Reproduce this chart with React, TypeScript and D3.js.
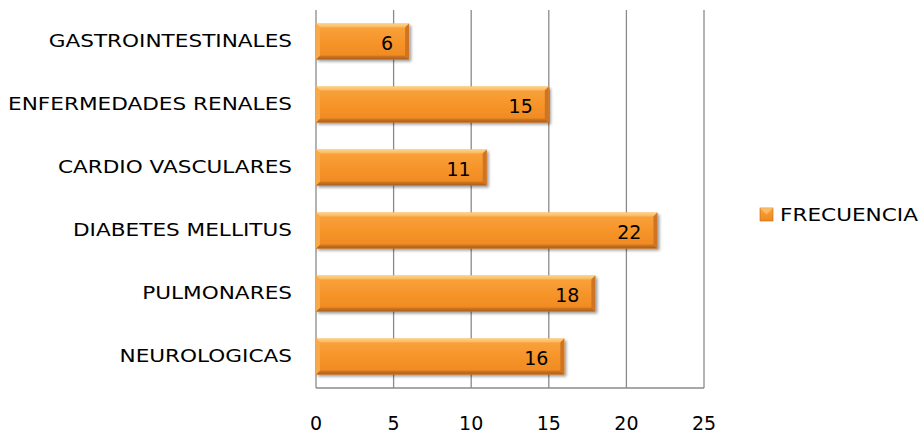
import React from "react";
import * as d3 from "d3";

const categories = ["GASTROINTESTINALES", "ENFERMEDADES RENALES", "CARDIO VASCULARES", "DIABETES MELLITUS", "PULMONARES", "NEUROLOGICAS"];
const values = [6, 15, 11, 22, 18, 16];
const ticks = [0, 5, 10, 15, 20, 25];
const seriesName = "FRECUENCIA";

const W = 920, H = 436;
const left = 316, right = 704, top = 10, bottom = 388;
const FONT = "'DejaVu Sans', sans-serif";
const SX = 1.2;
const BV = 4;

export default function App() {
  const x = d3.scaleLinear().domain([0, 25]).range([left, right]);
  const y = d3.scaleBand<string>().domain(categories).range([top, bottom]).paddingInner(0.43).paddingOuter(0.215);
  const bh = y.bandwidth();
  return (
    <svg width={W} height={H} style={{ position: "absolute", left: 0, top: 0, background: "#fff" }}>
      <defs>
        <linearGradient id="barg" x1="0" y1="0" x2="0" y2="1">
          <stop offset="0" stopColor="#F9A43E" />
          <stop offset="0.5" stopColor="#F6952A" />
          <stop offset="1" stopColor="#EE8820" />
        </linearGradient>
        <linearGradient id="topg" x1="0" y1="0" x2="0" y2="1">
          <stop offset="0" stopColor="#FCD38A" />
          <stop offset="1" stopColor="#FAB65A" />
        </linearGradient>
        <linearGradient id="botg" x1="0" y1="0" x2="0" y2="1">
          <stop offset="0" stopColor="#D77A22" />
          <stop offset="1" stopColor="#A95E1A" />
        </linearGradient>
        <filter id="sh" x="-5%" y="-20%" width="115%" height="160%">
          <feGaussianBlur in="SourceAlpha" stdDeviation="1.5" />
          <feOffset dx="1.5" dy="2" result="o" />
          <feComponentTransfer><feFuncA type="linear" slope="0.4" /></feComponentTransfer>
          <feMerge><feMergeNode /><feMergeNode in="SourceGraphic" /></feMerge>
        </filter>
      </defs>
      {ticks.map(t => (
        <line key={t} x1={x(t)} x2={x(t)} y1={top} y2={bottom} stroke="#8a8a8a" strokeWidth={1.3} />
      ))}
      <line x1={left} x2={right} y1={bottom} y2={bottom} stroke="#8a8a8a" strokeWidth={1.3} />
      {ticks.map(t => (
        <text key={t} x={x(t)} y={423} textAnchor="middle" dominantBaseline="central" fontFamily={FONT} fontSize={19} fill="#000">{t}</text>
      ))}
      {categories.map((c, i) => {
        const y0 = y(c)!;
        const y1 = y0 + bh;
        const x0 = left;
        const x1 = x(values[i]);
        return (
          <g key={c}>
            <text transform={`translate(292,${y0 + bh / 2}) scale(${SX},1)`} textAnchor="end" dominantBaseline="central" fontFamily={FONT} fontSize={18} fill="#000">{c}</text>
            <g filter="url(#sh)">
              <rect x={x0} y={y0} width={x1 - x0} height={bh} fill="url(#barg)" />
            </g>
            <path d={`M${x0},${y0}L${x1},${y0}L${x1 - BV},${y0 + BV}L${x0 + BV},${y0 + BV}Z`} fill="url(#topg)" />
            <path d={`M${x0},${y1}L${x1},${y1}L${x1 - BV},${y1 - BV}L${x0 + BV},${y1 - BV}Z`} fill="url(#botg)" />
            <path d={`M${x0},${y0}L${x0 + BV},${y0 + BV}L${x0 + BV},${y1 - BV}L${x0},${y1}Z`} fill="#F8AA4A" />
            <path d={`M${x1},${y0}L${x1 - BV},${y0 + BV}L${x1 - BV},${y1 - BV}L${x1},${y1}Z`} fill="#CF7424" />
            <text x={x1 - 16} y={y0 + bh / 2 + 1} textAnchor="end" dominantBaseline="central" fontFamily={FONT} fontSize={19} fill="#000">{values[i]}</text>
          </g>
        );
      })}
      <g>
        <rect x={760} y={208} width={13} height={13} fill="url(#barg)" stroke="#C0691A" strokeWidth={0.6} />
        <path d="M760,208 L766.5,214.5 L773,208 Z" fill="#FBC270" opacity={0.8} />
        <text transform={`translate(780,215) scale(${SX},1)`} dominantBaseline="central" fontFamily={FONT} fontSize={18} fill="#000">{seriesName}</text>
      </g>
    </svg>
  );
}
